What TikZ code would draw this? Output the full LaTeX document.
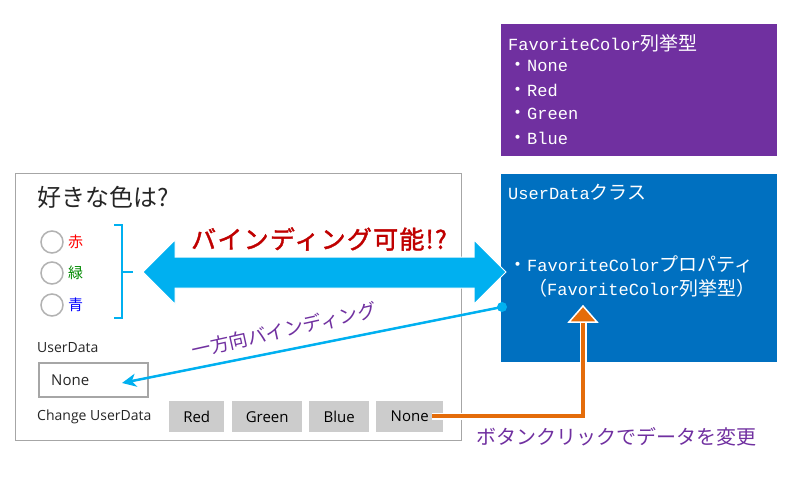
\documentclass[tikz,border=0pt]{standalone}
\usepackage{fontspec}
\setmainfont{Open Sans}
\newfontfamily\jp{Noto Sans CJK JP}
\newfontfamily\jpb[FakeBold=1.6,LetterSpace=5]{Noto Sans CJK JP}
\newfontfamily\mono{Liberation Mono}
\usetikzlibrary{arrows.meta}
\definecolor{cyanA}{HTML}{00B0F0}
\definecolor{blueBox}{HTML}{0070C0}
\definecolor{purpleBox}{HTML}{7030A0}
\definecolor{purpleTxt}{HTML}{7030A0}
\definecolor{darkRed}{HTML}{C00000}
\definecolor{orangeA}{HTML}{E46C0A}
\definecolor{grayBorder}{HTML}{A6A6A6}
\definecolor{btnFill}{HTML}{CCCCCC}
\definecolor{greenA}{HTML}{008A00}
\newcommand{\mt}[1]{{\mono\fontsize{17}{19}\selectfont #1}}
\newcommand{\jt}[1]{{\jp\fontsize{19}{19}\selectfont #1}}
\tikzset{
  panelbox/.style={draw=grayBorder, line width=1.2pt, fill=white, inner sep=0pt, anchor=north west},
  colbox/.style={inner sep=0pt, anchor=north west},
  boxtxt/.style={text=white, anchor=west, inner sep=0pt},
  radio/.style={circle, draw=black!30, line width=1.5pt, minimum size=22pt, inner sep=0pt},
  btn/.style={fill=btnFill, inner sep=0pt, minimum height=31pt, anchor=north west, font=\fontsize{15}{15}\selectfont},
  lbl/.style={anchor=west, inner sep=0pt, font=\fontsize{14}{14}\selectfont, text=black!85},
}
\begin{document}
\begin{tikzpicture}[x=1pt,y=-1pt]
\useasboundingbox (0,0) rectangle (800,480);
% left panel
\node[panelbox, minimum width=446pt, minimum height=267pt] (panel) at (15,173) {};
\node[anchor=west, inner sep=0pt, font=\jp\fontsize{24}{24}\selectfont, text=black!85] (q) at (37,197) {好きな色は?};
\node[radio] (r1) at (52,242) {};
\node[radio] (r2) at (52,273) {};
\node[radio] (r3) at (52,305) {};
\node[anchor=west, inner sep=0pt, font=\jp\fontsize{15}{15}\selectfont, text=red] (l1) at (68,242) {赤};
\node[anchor=west, inner sep=0pt, font=\jp\fontsize{15}{15}\selectfont, text=greenA] (l2) at (68,273) {緑};
\node[anchor=west, inner sep=0pt, font=\jp\fontsize{15}{15}\selectfont, text=blue] (l3) at (68,305) {青};
\draw[cyanA, line width=2.5pt] (114,225) -- (122,225) -- (122,318) -- (114,318);
\draw[cyanA, line width=2.5pt] (122,272) -- (133,272);
\node[lbl] (udl) at (37,348) {UserData};
\node[draw=grayBorder, line width=1.8pt, minimum width=109pt, minimum height=34pt, anchor=north west, inner sep=0pt] (tb) at (38,362) {};
\node[lbl, font=\fontsize{15}{15}\selectfont] (tbt) at (51,380) {None};
\node[lbl] (cud) at (37,417) {Change UserData};
\node[btn, minimum width=55pt] (bred) at (169,401) {Red};
\node[btn, minimum width=70pt] (bgreen) at (232,401) {Green};
\node[btn, minimum width=60pt] (bblue) at (309,401) {Blue};
\node[btn, minimum width=67pt] (bnone) at (376,401) {None};
% purple box
\node[colbox, fill=purpleBox, minimum width=276pt, minimum height=132pt] (enumbox) at (501,24) {};
\node[boxtxt] (e0) at (508,43) {\mt{FavoriteColor}\jt{列挙型}};
\node[boxtxt] (e1) at (508,66) {\jt{・}\mt{None}};
\node[boxtxt] (e2) at (508,90) {\jt{・}\mt{Red}};
\node[boxtxt] (e3) at (508,114) {\jt{・}\mt{Green}};
\node[boxtxt] (e4) at (508,138) {\jt{・}\mt{Blue}};
% blue box
\node[colbox, fill=blueBox, minimum width=276pt, minimum height=188pt] (udbox) at (501,174) {};
\node[boxtxt] (u0) at (508,192) {\mt{UserData}\jt{クラス}};
\node[boxtxt] (u1) at (508,264) {\jt{・}\mt{FavoriteColor}\jt{プロパティ}};
\node[boxtxt] (u2) at (528,288) {\jt{（}\mt{FavoriteColor}\jt{列挙型）}};
% big double arrow
\filldraw[fill=cyanA, draw=white, line width=1pt, line join=miter]
  (143,272) -- (175,240) -- (175,257) -- (474,257) -- (474,240) -- (506,272)
  -- (474,304) -- (474,288) -- (175,288) -- (175,304) -- cycle;
\node[font=\jpb\fontsize{25}{25}\selectfont, text=darkRed, inner sep=0pt] (bind) at (319,239) {バインディング可能!?};
% one-way binding
\coordinate (src) at (502,307);
\coordinate (dst) at (122,383);
\draw[cyanA, line width=2.5pt, -{Stealth[length=14pt, width=13pt, inset=4pt]}] (src) -- (dst);
\fill[cyanA] (src) circle (5pt);
\node[rotate=12.5, font=\jp\fontsize{19}{19}\selectfont, text=purpleTxt, inner sep=0pt] (owl) at (284,330) {一方向バインディング};
% orange arrow
\coordinate (o1) at (432,416);
\coordinate (o2) at (583,416);
\coordinate (o3) at (583,321);
\draw[white, line width=7pt] (o1) -- (o2) -- (o3);
\draw[orangeA, line width=4pt] (o1) -- (o2) -- (o3);
\filldraw[fill=orangeA, draw=white, line width=1.5pt, line join=miter] (569,322) -- (583,306) -- (597,322) -- cycle;
\node[anchor=west, inner sep=0pt, font=\jp\fontsize{20}{20}\selectfont, text=purpleTxt] (cl) at (476,437) {ボタンクリックでデータを変更};
\end{tikzpicture}
\end{document}
